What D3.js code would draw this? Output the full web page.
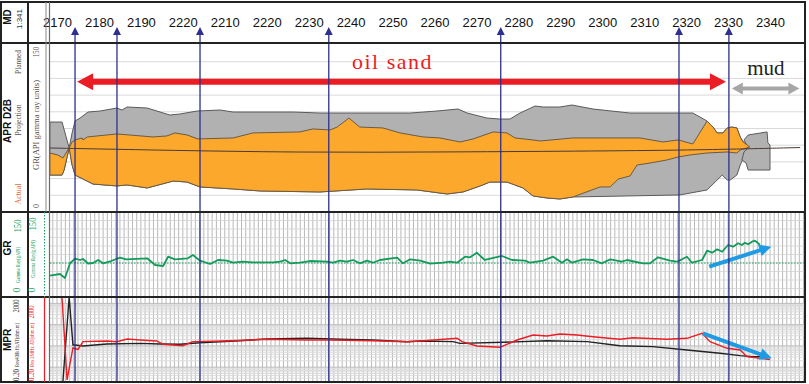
<!DOCTYPE html>
<html><head><meta charset="utf-8">
<script src="https://cdn.jsdelivr.net/npm/d3@7"></script>
<style>body{margin:0;background:#fff}svg{display:block}</style>
</head><body><svg id="c" width="809" height="384"></svg>
<script>
// ---------- data ----------
const depthTicks = [2170,2180,2190,2200,2210,2220,2230,2240,2250,2260,2270,2280,2290,2300,2310,2320,2330,2340];
const depthLabels = ["2170","2180","2190","2220","2210","2220","2230","2240","2250","2260","2270","2280","2290","2300","2310","2320","2330","2340"];
const markerDepths = [2174.3, 2184.3, 2204.1, 2234.8, 2275.8, 2318.3, 2330.2];

// APR D2B model section: [MD, value 0-150]
const aprGrayTop = [[2168.3,80.8],[2171.2,80.8],[2172.9,57.5],[2173.6,71.0],[2174.3,81.7],[2175.5,84.4],[2177.4,89.8],[2180.3,90.7],[2184.3,93.4],[2185.5,91.6],[2186.7,94.3],[2191.5,93.4],[2196.9,87.1],[2199.3,88.0],[2203.4,90.7],[2208.9,91.6],[2212.0,89.8],[2218.4,89.8],[2226.3,89.8],[2232.7,88.9],[2243.9,88.9],[2254.2,88.9],[2260.6,90.7],[2265.6,92.5],[2267.8,88.9],[2272.5,84.4],[2275.6,83.5],[2278.0,83.5],[2280.4,88.9],[2284.0,95.2],[2285.9,94.3],[2289.9,94.3],[2292.8,96.1],[2297.8,92.5],[2306.6,88.9],[2321.6,88.9],[2325.0,81.7],[2326.4,76.3],[2327.4,71.0],[2328.8,71.0],[2329.8,75.5],[2330.9,76.3],[2332.1,75.5],[2332.9,67.4],[2333.6,62.9],[2335.2,58.4]];
const aprGrayBottom = [[2168.3,33.2],[2171.2,33.2],[2171.7,37.7],[2172.9,57.5],[2173.6,42.2],[2174.3,33.2],[2176.2,29.6],[2178.6,25.1],[2184.3,23.4],[2186.7,24.3],[2191.5,21.6],[2197.7,27.8],[2201.0,26.9],[2204.1,22.5],[2212.0,20.7],[2218.4,18.9],[2232.7,18.0],[2243.9,20.7],[2255.8,19.8],[2263.0,16.2],[2266.8,18.0],[2270.9,23.4],[2273.2,26.9],[2277.3,26.9],[2281.1,21.6],[2283.5,14.4],[2286.8,12.6],[2289.9,11.7],[2293.0,13.5],[2318.5,15.3],[2325.0,19.8],[2326.9,26.9],[2328.6,33.2],[2329.8,28.7],[2330.5,28.7],[2332.1,33.2],[2332.9,42.2],[2334.0,51.2],[2335.2,58.4]];
const aprGrayBlock = [[2333.8,64.7],[2334.8,69.2],[2339.3,71.9],[2339.5,62.0],[2340.0,60.2],[2340.0,37.7],[2334.8,37.7],[2334.3,44.0],[2333.3,46.7],[2333.8,53.9],[2334.8,57.5]];
const aprSandTop = [[2168.3,53.0],[2170.2,51.2],[2171.4,48.5],[2172.9,57.5],[2173.6,62.9],[2174.3,64.7],[2176.0,66.5],[2176.2,64.7],[2177.2,67.4],[2184.3,70.1],[2192.9,67.4],[2196.2,68.3],[2198.1,71.0],[2201.0,69.2],[2203.6,65.6],[2212.0,66.5],[2216.7,71.0],[2227.9,71.9],[2231.0,74.6],[2235.1,73.7],[2236.8,76.3],[2239.6,84.4],[2242.2,76.3],[2247.7,75.5],[2251.8,71.0],[2257.3,67.4],[2261.3,66.5],[2266.1,62.9],[2269.2,65.6],[2274.0,71.9],[2277.3,71.0],[2279.2,66.5],[2283.5,64.7],[2285.2,63.8],[2293.0,66.5],[2309.0,66.5],[2314.5,62.9],[2318.1,64.7],[2321.6,61.1],[2325.0,81.7],[2326.4,76.3],[2327.4,71.0],[2328.8,71.0],[2329.8,75.5],[2330.9,76.3],[2332.1,75.5],[2332.9,67.4],[2333.6,62.9],[2335.2,58.4]];
const aprSandBottom = [[2168.3,33.2],[2171.2,33.2],[2171.7,37.7],[2172.9,57.5],[2173.6,42.2],[2174.3,33.2],[2176.2,29.6],[2178.6,25.1],[2184.3,23.4],[2186.7,24.3],[2191.5,21.6],[2197.7,27.8],[2201.0,26.9],[2204.1,22.5],[2212.0,20.7],[2218.4,18.9],[2232.7,18.0],[2243.9,20.7],[2255.8,19.8],[2263.0,16.2],[2266.8,18.0],[2270.9,23.4],[2273.2,26.9],[2277.3,26.9],[2281.1,21.6],[2283.5,14.4],[2286.8,12.6],[2289.9,11.7],[2293.0,13.5],[2299.5,22.5],[2301.9,22.5],[2303.8,29.6],[2306.6,32.3],[2308.3,42.2],[2311.4,44.0],[2315.4,46.7],[2318.1,49.4],[2320.9,51.2],[2325.0,53.0],[2329.8,53.9],[2332.1,53.0],[2332.9,55.7],[2335.2,58.4]];
const wellPath = [[2168.3,57.5],[2192.2,55.7],[2227.9,53.4],[2263.7,53.9],[2299.5,54.8],[2323.3,55.7],[2347.2,57.9]];
const oilSandSpan = [2174.8, 2329.5], oilSandLevel = 117;
const mudSpan = [2330.9, 2347.0], mudLevel = 111;

// GR log (gAPI)
const grBaseline = 60;
const grLog = [[2168.1,37.6],[2170.7,40.6],[2171.9,33.5],[2173.1,59.5],[2174.3,67.6],[2175.5,65.3],[2176.2,67.1],[2177.4,59.1],[2178.6,60.0],[2179.8,65.3],[2181.0,59.5],[2182.9,63.5],[2185.0,69.4],[2186.5,66.5],[2191.5,68.3],[2193.4,56.5],[2195.3,54.7],[2196.5,71.1],[2198.1,66.5],[2201.2,68.3],[2202.4,74.1],[2204.1,64.1],[2206.5,58.2],[2208.4,65.3],[2210.5,64.1],[2212.0,60.5],[2214.3,62.3],[2216.7,61.2],[2221.5,61.2],[2223.2,62.3],[2224.4,65.3],[2225.6,59.5],[2227.9,60.5],[2230.3,63.5],[2234.4,62.3],[2235.8,60.5],[2237.5,64.1],[2239.1,62.3],[2240.6,65.3],[2242.2,59.5],[2243.9,64.1],[2245.3,60.5],[2247.0,65.3],[2251.1,69.4],[2252.5,59.5],[2254.2,66.5],[2256.6,64.1],[2259.0,58.8],[2262.0,60.5],[2263.7,62.3],[2265.4,60.5],[2267.3,71.1],[2268.5,70.1],[2270.1,78.2],[2272.0,65.3],[2276.1,72.4],[2278.5,65.3],[2281.6,64.1],[2282.8,60.5],[2285.9,64.1],[2288.3,71.1],[2290.4,60.5],[2291.6,66.5],[2292.8,60.5],[2295.4,66.5],[2297.8,65.3],[2299.9,59.5],[2301.9,66.5],[2304.7,62.3],[2305.9,65.3],[2309.7,59.5],[2311.4,59.5],[2313.3,70.1],[2316.2,64.1],[2317.8,62.3],[2319.0,66.5],[2320.2,71.1],[2321.4,60.5],[2323.8,65.3],[2325.0,81.7],[2326.2,78.2],[2327.4,84.2],[2328.6,79.9],[2330.0,91.8],[2331.2,88.8],[2332.4,94.8],[2333.3,91.8],[2334.0,95.8],[2334.8,93.0],[2335.7,97.6],[2336.4,99.4],[2337.2,94.8],[2337.6,91.8]];
const grTrend = [[2325.5,53.5],[2340.3,88.8]];

// MPR resistivity (ohm.m)
const res400k = [[2171.4,0.2],[2172.9,2000],[2173.8,11.0],[2174.3,11.0],[2176.2,9.9],[2181.9,12.3],[2189.8,13.2],[2194.6,12.3],[2199.3,11.9],[2204.1,14.1],[2213.6,17.6],[2220.1,21.1],[2229.6,22.8],[2237.5,20.4],[2245.3,18.9],[2253.5,15.8],[2256.6,17.0],[2264.4,15.8],[2266.1,13.2],[2276.3,14.8],[2286.8,17.6],[2296.4,15.8],[2304.2,10.2],[2312.1,9.2],[2320.2,6.4],[2328.1,4.5],[2332.9,3.5],[2336.0,3.1],[2339.3,3.1]];
const res2M = [[2171.2,1795],[2172.4,0.25],[2173.8,8.0],[2175.0,6.9],[2176.2,15.8],[2181.9,17.0],[2184.3,15.8],[2186.7,21.1],[2189.8,18.9],[2193.8,17.0],[2195.3,11.9],[2200.0,10.2],[2202.4,15.8],[2209.6,17.0],[2220.1,20.4],[2229.6,18.9],[2235.1,18.9],[2245.3,17.6],[2253.5,15.8],[2256.6,17.0],[2265.4,22.8],[2266.6,15.8],[2270.1,9.9],[2275.6,8.6],[2279.7,18.9],[2283.5,32.6],[2286.8,29.2],[2289.9,36.3],[2294.0,32.6],[2297.8,27.1],[2304.2,20.4],[2307.3,24.3],[2315.4,20.4],[2320.2,22.8],[2323.8,39.2],[2325.7,15.8],[2329.8,7.7],[2332.9,6.4],[2334.5,3.1],[2340.0,2.3]];
const mprTrend = [[2324.0,39.2],[2340.4,2.6]];

// ---------- layout ----------
const svg = d3.select('#c');
const L = 50, R = 804;
const rowHdr = [2, 43], rowApr = [43, 212], rowGr = [212, 297], rowMpr = [297, 382];
const x = d3.scaleLinear().domain([2170, 2340]).range([57, 770]);
const yApr = d3.scaleLinear().domain([0, 150]).range([212, 45]);
const yGr = d3.scaleLinear().domain([0, 150]).range([297, 212]);
const yMpr = d3.scaleLog().domain([0.2, 2000]).range([382, 297]);
const dMin = x.invert(L), dMax = x.invert(R);

const navy = '#2e2f8f', grayLine = '#5a5a5a';

// clip paths
const defs = svg.append('defs');
[['cApr', rowApr], ['cGr', rowGr], ['cMpr', rowMpr]].forEach(([id, r]) => {
  defs.append('clipPath').attr('id', id).append('rect').attr('x', L).attr('y', r[0]).attr('width', R - L).attr('height', r[1] - r[0]);
});

// ---------- APR panel ----------
const gApr = svg.append('g').attr('clip-path', 'url(#cApr)');
gApr.selectAll('line.h').data(d3.range(15, 150, 15)).join('line')
  .attr('x1', L).attr('x2', R).attr('y1', d => yApr(d)).attr('y2', d => yApr(d))
  .attr('stroke', '#d9d9d9').attr('stroke-width', 1);
const lineApr = d3.line().x(d => x(d[0])).y(d => yApr(d[1]));
const polyPath = (top, bot) => lineApr(top.concat(bot.slice().reverse())) + 'Z';
gApr.append('path').attr('d', polyPath(aprGrayTop, aprGrayBottom)).attr('fill', '#b1b1b1').attr('stroke', grayLine).attr('stroke-width', 1);
gApr.append('path').attr('d', lineApr(aprGrayBlock) + 'Z').attr('fill', '#b1b1b1').attr('stroke', grayLine).attr('stroke-width', 1);
gApr.append('path').attr('d', polyPath(aprSandTop, aprSandBottom)).attr('fill', '#fca82c').attr('stroke', '#6b5a45').attr('stroke-width', 1);
gApr.append('path').attr('d', d3.line().curve(d3.curveBasis).x(d => x(d[0])).y(d => yApr(d[1]))(wellPath))
  .attr('fill', 'none').attr('stroke', '#4a3a38').attr('stroke-width', 1);

function arrowHead(g, tip, from, len, halfW, color) {
  const dx = from[0] - tip[0], dy = from[1] - tip[1], n = Math.hypot(dx, dy);
  const ux = dx / n, uy = dy / n, bx = tip[0] + ux * len, by = tip[1] + uy * len;
  g.append('path').attr('d', `M${tip[0]},${tip[1]}L${bx - uy * halfW},${by + ux * halfW}L${bx + uy * halfW},${by - ux * halfW}Z`).attr('fill', color);
}
function dblArrow(g, a, b, color, w, len, hw) {
  const dx = b[0] - a[0], dy = b[1] - a[1], n = Math.hypot(dx, dy), ux = dx / n, uy = dy / n;
  g.append('line').attr('x1', a[0] + ux * len * 0.8).attr('y1', a[1] + uy * len * 0.8).attr('x2', b[0] - ux * len * 0.8).attr('y2', b[1] - uy * len * 0.8)
    .attr('stroke', color).attr('stroke-width', w);
  arrowHead(g, a, b, len, hw, color);
  arrowHead(g, b, a, len, hw, color);
}
const gAnn = svg.append('g');
dblArrow(gAnn, [x(oilSandSpan[0]), yApr(oilSandLevel)], [x(oilSandSpan[1]), yApr(oilSandLevel)], '#ec1c24', 6, 16, 8.5);
dblArrow(gAnn, [x(mudSpan[0]), yApr(mudLevel)], [x(mudSpan[1]), yApr(mudLevel)], '#a6a6a6', 4, 11, 6);
gAnn.append('text').attr('x', x(2250)).attr('y', 69).attr('text-anchor', 'middle')
  .attr('font-family', 'Liberation Serif, Times New Roman, serif').attr('font-size', 22).attr('letter-spacing', 1.5)
  .attr('fill', '#ec1c24').text('oil sand');
gAnn.append('text').attr('x', x(2339)).attr('y', 75).attr('text-anchor', 'middle')
  .attr('font-family', 'Liberation Serif, Times New Roman, serif').attr('font-size', 21)
  .attr('fill', '#222').text('mud');

// ---------- GR panel ----------
const gGr = svg.append('g').attr('clip-path', 'url(#cGr)');
const vGrid = d3.range(Math.ceil(dMin), Math.floor(dMax) + 1);
function drawVGrid(g, r) {
  g.selectAll('line.v').data(vGrid).join('line').attr('class', 'v')
    .attr('x1', d => x(d)).attr('x2', d => x(d)).attr('y1', r[0]).attr('y2', r[1])
    .attr('stroke', '#b9b9b9').attr('stroke-width', 1);
}
drawVGrid(gGr, rowGr);
gGr.selectAll('line.h').data(d3.range(15, 150, 15)).join('line').attr('class', 'h')
  .attr('x1', L).attr('x2', R).attr('y1', d => yGr(d)).attr('y2', d => yGr(d))
  .attr('stroke', '#d2d2d2').attr('stroke-width', 0.8);
gGr.append('line').attr('x1', L).attr('x2', R).attr('y1', yGr(grBaseline)).attr('y2', yGr(grBaseline))
  .attr('stroke', '#1aa160').attr('stroke-width', 1).attr('stroke-dasharray', '1.5,1.5');
gGr.append('path').attr('d', d3.line().x(d => x(d[0])).y(d => yGr(d[1]))(grLog))
  .attr('fill', 'none').attr('stroke', '#129c5a').attr('stroke-width', 1.8).attr('stroke-linejoin', 'round');
(function () {
  const a = [x(grTrend[0][0]), yGr(grTrend[0][1])], b = [x(grTrend[1][0]), yGr(grTrend[1][1])];
  const n = Math.hypot(b[0] - a[0], b[1] - a[1]);
  gGr.append('line').attr('x1', a[0]).attr('y1', a[1]).attr('x2', b[0] - (b[0] - a[0]) / n * 8).attr('y2', b[1] - (b[1] - a[1]) / n * 8)
    .attr('stroke', '#1e9be3').attr('stroke-width', 4);
  arrowHead(gGr, b, a, 12, 6, '#1e9be3');
})();

// ---------- MPR panel ----------
const gMpr = svg.append('g').attr('clip-path', 'url(#cMpr)');
drawVGrid(gMpr, rowMpr);
const logGrid = [];
[0.1, 1, 10, 100, 1000].forEach(p => d3.range(1, 10).forEach(m => { const v = p * m; if (v > 0.2 && v < 2000) logGrid.push(v); }));
gMpr.selectAll('line.h').data(logGrid).join('line').attr('class', 'h')
  .attr('x1', L).attr('x2', R).attr('y1', d => yMpr(d)).attr('y2', d => yMpr(d))
  .attr('stroke', d => [1, 10, 100, 1000].includes(d) ? '#bdbdbd' : '#dcdcdc').attr('stroke-width', 1);
const lineMpr = d3.line().x(d => x(d[0])).y(d => yMpr(Math.max(0.2, Math.min(2000, d[1]))));
gMpr.append('path').attr('d', lineMpr(res400k)).attr('fill', 'none').attr('stroke', '#222').attr('stroke-width', 1.4);
gMpr.append('path').attr('d', lineMpr(res2M)).attr('fill', 'none').attr('stroke', '#ec1c24').attr('stroke-width', 1.4);
(function () {
  const a = [x(mprTrend[0][0]), yMpr(mprTrend[0][1])], b = [x(mprTrend[1][0]), yMpr(mprTrend[1][1])];
  const n = Math.hypot(b[0] - a[0], b[1] - a[1]);
  gMpr.append('line').attr('x1', a[0]).attr('y1', a[1]).attr('x2', b[0] - (b[0] - a[0]) / n * 8).attr('y2', b[1] - (b[1] - a[1]) / n * 8)
    .attr('stroke', '#1e9be3').attr('stroke-width', 4);
  arrowHead(gMpr, b, a, 12, 6, '#1e9be3');
})();

// ---------- marker lines ----------
const gMk = svg.append('g');
markerDepths.forEach(d => {
  const xx = x(d);
  gMk.append('line').attr('x1', xx).attr('x2', xx).attr('y1', 33).attr('y2', rowMpr[1]).attr('stroke', navy).attr('stroke-width', 1.3);
  gMk.append('path').attr('d', `M${xx},27L${xx - 4},35L${xx + 4},35Z`).attr('fill', navy);
});

// ---------- header axis ----------
const axis = d3.axisTop(x).tickValues(depthTicks).tickSize(0).tickPadding(0)
  .tickFormat((d, i) => depthLabels[i]);
const gAx = svg.append('g').attr('transform', 'translate(0,27)').call(axis);
gAx.select('.domain').remove();
gAx.selectAll('text').attr('font-family', 'Liberation Sans, Arial, sans-serif').attr('font-size', 13).attr('fill', '#111');

// ---------- frame ----------
const gF = svg.append('g').attr('fill', 'none');
gF.append('rect').attr('x', 1).attr('y', 2).attr('width', 804).attr('height', 380).attr('stroke', '#222').attr('stroke-width', 2);
[rowApr[0], rowGr[0], rowMpr[0]].forEach(y => gF.append('line').attr('x1', 1).attr('x2', 805).attr('y1', y).attr('y2', y).attr('stroke', '#222').attr('stroke-width', 2));
gF.append('line').attr('x1', 28).attr('x2', 28).attr('y1', 2).attr('y2', 382).attr('stroke', '#222').attr('stroke-width', 2);
gF.append('line').attr('x1', 46).attr('x2', 46).attr('y1', 2).attr('y2', 212).attr('stroke', '#8a8a8a').attr('stroke-width', 1);
gF.append('line').attr('x1', 49.5).attr('x2', 49.5).attr('y1', 2).attr('y2', 382).attr('stroke', '#6a6a6a').attr('stroke-width', 1.2);
gF.append('line').attr('x1', 44.5).attr('x2', 44.5).attr('y1', rowGr[0]).attr('y2', rowGr[1]).attr('stroke', '#1aa160').attr('stroke-dasharray', '1.5,1.5');
gF.append('line').attr('x1', 44.5).attr('x2', 44.5).attr('y1', rowMpr[0]).attr('y2', rowMpr[1]).attr('stroke', '#ec1c24').attr('stroke-width', 1.2);

// ---------- left labels ----------
function vtext(xx, yy, t, o = {}) {
  const s = svg.append('text').attr('transform', `translate(${xx},${yy}) rotate(-90)`).attr('text-anchor', 'middle').attr('dominant-baseline', 'middle')
    .attr('font-family', o.ff || 'Liberation Serif, Times New Roman, serif').attr('font-size', o.fs || 9)
    .attr('font-weight', o.fw || 'normal').attr('fill', o.fill || '#555').text(t);
  if (o.len) s.attr('textLength', o.len).attr('lengthAdjust', 'spacingAndGlyphs');
  return s;
}
const sans = 'Liberation Sans, Arial, sans-serif';
vtext(8, 17, 'MD', { ff: sans, fs: 10, fw: 'bold', fill: '#111' });
vtext(20, 19, '1:341', { ff: sans, fs: 8, fill: '#333' });
vtext(8, 121, 'APR D2B', { ff: sans, fs: 10, fw: 'bold', fill: '#111' });
vtext(19, 62, 'Planned', { fs: 9, len: 24 });
vtext(19, 120, 'Projection', { fs: 9, len: 31 });
vtext(19, 194, 'Actual', { fs: 9, fill: '#e06a3c', len: 21 });
vtext(37, 52, '150', { fs: 8, len: 10 });
vtext(37, 125, 'GR(API gamma ray units)', { fs: 9, len: 90 });
vtext(37, 206, '0', { fs: 8 });
vtext(8, 248, 'GR', { ff: sans, fs: 10, fw: 'bold', fill: '#111' });
const green = '#18a060';
vtext(18, 226, '150', { fs: 11, fill: green, len: 13 });
vtext(18, 265, 'Gamma Ray(gAPI)', { fs: 7, fill: green, len: 36 });
vtext(18, 290, '0', { fs: 10, fill: green });
vtext(33, 224, '150', { fs: 11, fill: green, len: 13 });
vtext(33, 259, 'Gamma Ray(gAPI)', { fs: 7, fill: green, len: 38 });
vtext(33, 290, '0', { fs: 10, fill: green });
vtext(8, 340, 'MPR', { ff: sans, fs: 10, fw: 'bold', fill: '#111' });
vtext(17, 306, '2000', { fs: 9, fill: '#333', len: 13 });
vtext(17, 345, 'Res400kHzAT(ohm.m)', { fs: 7, fill: '#333', len: 44 });
vtext(17, 375, '0.20', { fs: 9, fill: '#333', len: 12 });
vtext(32, 312, '2000', { fs: 9, fill: '#ec1c24', len: 13 });
vtext(32, 345, 'Res 2MHz AT(ohm.m)', { fs: 7, fill: '#ec1c24', len: 44 });
vtext(32, 375, '0.20', { fs: 9, fill: '#ec1c24', len: 12 });
</script></body></html>
